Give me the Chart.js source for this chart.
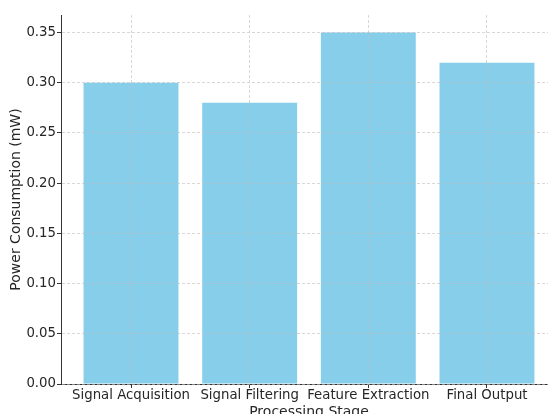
<!DOCTYPE html>
<html>
<head>
<meta charset="utf-8">
<script src="https://cdn.jsdelivr.net/npm/chart.js@4.4.1/dist/chart.umd.min.js"></script>
<style>
  html, body { margin: 0; padding: 0; overflow: hidden; background: #fff; }
  #wrap { position: absolute; left: 0; top: 0; width: 600px; height: 440px; }
</style>
</head>
<body>
<div id="wrap"><canvas id="chart" width="600" height="440"></canvas></div>
<script>
// Power consumption per stage
const stages = ['Signal Acquisition', 'Signal Filtering', 'Feature Extraction', 'Final Output'];
const power = [0.30, 0.28, 0.35, 0.32];
const yTicks = [0, 0.05, 0.10, 0.15, 0.20, 0.25, 0.30, 0.35];

const textColor = '#262626';
const gridColor = 'rgba(190,190,190,0.75)';
const tickFont = { family: 'DejaVu Sans', size: 13.3 };
const titleFont = { family: 'DejaVu Sans', size: 14 };

const ctx = document.getElementById('chart').getContext('2d');

new Chart(ctx, {
  type: 'bar',
  data: {
    datasets: [{
      label: 'Power',
      data: power.map((v, i) => ({ x: i, y: v })),
      backgroundColor: '#87CEEB',
      borderWidth: 0,
      barPercentage: 0.8,
      categoryPercentage: 1
    }]
  },
  options: {
    responsive: false,
    animation: false,
    layout: { padding: { top: 15, right: 43, left: 0, bottom: 0 } },
    plugins: { legend: { display: false }, tooltip: { enabled: false } },
    scales: {
      x: {
        type: 'linear',
        min: -0.59,
        max: 3.59,
        offset: false,
        afterFit: s => { s.height = 56; },
        afterBuildTicks: s => { s.ticks = stages.map((c, i) => ({ value: i })); },
        ticks: {
          color: textColor,
          font: tickFont,
          padding: 0,
          maxRotation: 0,
          autoSkip: false,
          z: 1,
          callback: v => stages[v]
        },
        grid: {
          offset: false,
          color: gridColor,
          lineWidth: 0.8,
          drawTicks: true,
          tickLength: 4,
          tickColor: '#333',
          tickWidth: 1,
          tickBorderDash: [],
          z: 1
        },
        border: { display: true, color: '#333', width: 1, dash: [3, 2], z: 1 },
        title: {
          display: true,
          text: 'Processing Stage',
          color: textColor,
          font: titleFont,
          padding: { top: 0, bottom: 19 }
        }
      },
      y: {
        min: 0,
        max: 0.3675,
        afterFit: s => { s.width = 61; },
        afterBuildTicks: s => { s.ticks = yTicks.map(v => ({ value: v })); },
        ticks: {
          color: textColor,
          font: tickFont,
          padding: 1,
          z: 1,
          callback: v => v.toFixed(2)
        },
        grid: {
          color: gridColor,
          lineWidth: 0.8,
          drawTicks: true,
          tickLength: 4,
          tickColor: '#333',
          tickWidth: 1,
          tickBorderDash: [],
          z: 1
        },
        border: { display: true, color: '#333', width: 1, dash: [3, 2], z: 1 },
        title: {
          display: true,
          text: 'Power Consumption (mW)',
          color: textColor,
          font: titleFont,
          padding: { top: 8, bottom: 0 }
        }
      }
    }
  }
});
</script>
</body>
</html>
